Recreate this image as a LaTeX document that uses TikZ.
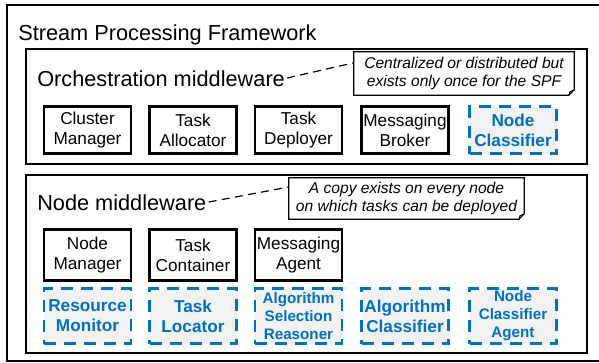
\documentclass[tikz,border=0pt]{standalone}
\usepackage{fontspec}
\setmainfont{Liberation Sans}
\definecolor{myblue}{RGB}{0,112,192}
\definecolor{mygray}{RGB}{242,242,242}
\begin{document}
\begin{tikzpicture}[x=0.75pt,y=-0.75pt,
  container/.style={draw=black, line width=1.5pt, inner sep=0pt, anchor=north west},
  lbl/.style={inner sep=0pt, anchor=base west, font=\fontsize{16.3}{19}\selectfont},
  comp/.style={draw=black, line width=1.6pt, minimum width=65.25pt, align=center, inner sep=0pt,
    font=\fontsize{12.9}{15}\selectfont},
  newcomp/.style={draw=myblue, fill=mygray, line width=1.7pt, dash pattern=on 9pt off 6pt,
    text=myblue, minimum width=65.25pt, align=center, inner sep=0pt,
    font=\fontsize{12.9}{15}\bfseries\selectfont},
  small/.style={font=\fontsize{11.4}{13.5}\bfseries\selectfont},
  callout/.style={inner sep=0pt, align=center, font=\fontsize{11.7}{13.5}\itshape\selectfont},
  link/.style={draw=black, line width=0.9pt, dash pattern=on 6pt off 4pt}
]
\useasboundingbox (0,0) rectangle (599,362);
\fill[white] (0,0) rectangle (599,362);

% containers
\node[container, minimum width=449.25pt, minimum height=267pt] (spf) at (6,4) {};
\node[container, minimum width=420.75pt, minimum height=86.25pt] (orch) at (25,48) {};
\node[container, minimum width=420.75pt, minimum height=133.5pt] (nmw) at (25,174) {};

% titles
\node[lbl] (spflbl) at (18,40) {Stream Processing Framework};
\node[lbl] (orchlbl) at (37,86) {Orchestration middleware};
\node[lbl] (nmwlbl) at (37,210) {Node middleware};

% callouts
\node[callout, minimum width=165pt, minimum height=32.25pt] (c1) at (464,73.5)
  {Centralized or distributed but\\exists only once for the SPF};
\node[callout, minimum width=176.25pt, minimum height=30.75pt] (c2) at (406.5,198.5)
  {A copy exists on every node\\on which tasks can be deployed};
\foreach \c in {c1,c2}{
  \draw[line width=0.8pt, fill=none] (\c.north west) -- (\c.north east) -- ([yshift=4pt]\c.south east)
    -- ([xshift=-4pt]\c.south east) -- (\c.south west) -- cycle;
  \draw[line width=0.8pt] ([xshift=-4pt]\c.south east) -- ([xshift=-3.2pt,yshift=2.6pt]\c.south east)
    -- ([yshift=4pt]\c.south east);
}
\draw[link] ([xshift=1.5pt,yshift=6pt]orchlbl.base east) -- ([yshift=8pt]c1.west);
\draw[link] ([xshift=1.5pt,yshift=6pt]nmwlbl.base east) -- ([yshift=8.6pt]c2.west);

% orchestration components
\node[comp, minimum height=35.25pt] (cm) at (87.5,130) {Cluster\\Manager};
\node[comp, minimum height=35.25pt] (ta) at (193,130) {Task\\Allocator};
\node[comp, minimum height=35.25pt] (td) at (298.5,130) {Task\\Deployer};
\node[comp, minimum height=35.25pt] (mb) at (405,130) {Messaging\\Broker};
\node[newcomp, minimum height=35.25pt] (nc) at (513,130) {Node\\Classifier};

% node middleware components
\node[comp, minimum height=38.25pt] (nm) at (87.5,255) {Node\\Manager};
\node[comp, minimum height=38.25pt] (tc) at (193,255) {Task\\Container};
\node[comp, minimum height=38.25pt] (ma) at (298.5,255) {Messaging\\Agent};

\node[newcomp, minimum height=41.25pt] (rm) at (87.5,316) {Resource\\Monitor};
\node[newcomp, minimum height=41.25pt] (tl) at (193,316) {Task\\Locator};
\node[newcomp, small, minimum height=41.25pt] (asr) at (298.5,316) {Algorithm\\Selection\\Reasoner};
\node[newcomp, minimum height=41.25pt] (ac) at (405,316) {Algorithm\\Classifier};
\node[newcomp, small, minimum height=41.25pt] (nca) at (513,316) {Node\\Classifier\\Agent};
\end{tikzpicture}
\end{document}
